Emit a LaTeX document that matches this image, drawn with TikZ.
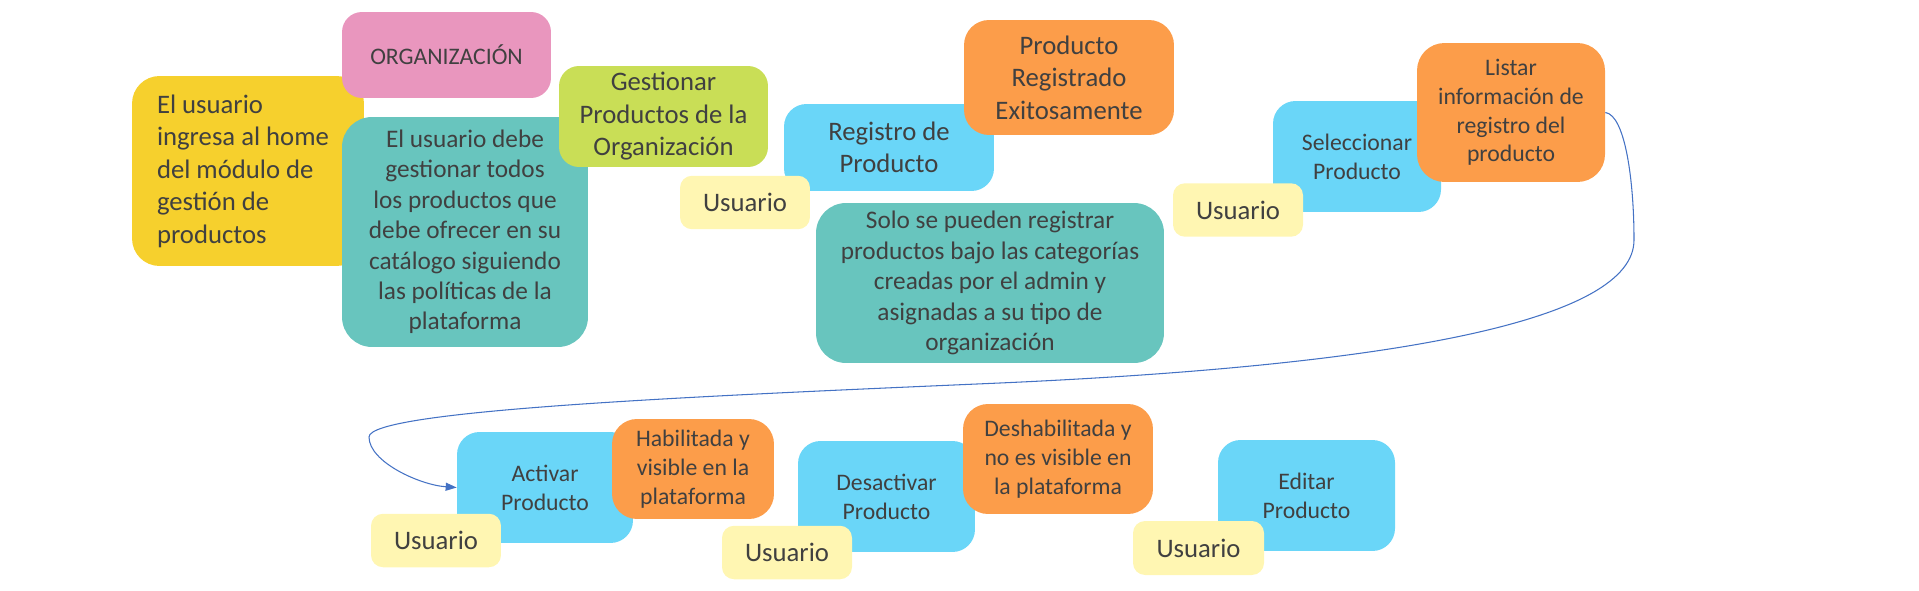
\documentclass[tikz,border=0pt]{standalone}
\usepackage{fontspec}
\setmainfont{Carlito}
\usetikzlibrary{arrows.meta}

\definecolor{cYellow}{RGB}{246,208,45}
\definecolor{cPink}{RGB}{233,150,190}
\definecolor{cTeal}{RGB}{104,197,190}
\definecolor{cGreen}{RGB}{201,222,86}
\definecolor{cBlue}{RGB}{106,214,248}
\definecolor{cOrange}{RGB}{252,157,74}
\definecolor{cCream}{RGB}{255,246,178}
\definecolor{cText}{RGB}{64,64,64}
\definecolor{cLine}{RGB}{68,114,196}

\newcommand{\txtbig}{\fontsize{15.2}{18.5}\selectfont}
\newcommand{\txtmid}{\fontsize{14.4}{17.3}\selectfont}
\newcommand{\txtsmall}{\fontsize{13.5}{16.4}\selectfont}

\tikzset{
  card/.style={inner sep=0pt, align=center, text=cText},
  yellowcard/.style={card, fill=cYellow, rounded corners=0.55cm, font=\txtbig},
  pinkcard/.style={card, fill=cPink, rounded corners=0.4cm, font=\txtsmall},
  tealcard/.style={card, fill=cTeal, rounded corners=0.6cm, font=\txtmid},
  greencard/.style={card, fill=cGreen, rounded corners=0.4cm, font=\txtbig},
  bluecard/.style={card, fill=cBlue, rounded corners=0.45cm, font=\txtsmall},
  orangecard/.style={card, fill=cOrange, rounded corners=0.5cm, font=\txtsmall},
  usercard/.style={card, fill=cCream, rounded corners=0.24cm, font=\txtbig,
    minimum width=2.6cm, minimum height=1.07cm},
  flowline/.style={draw=cLine, line width=0.6pt, -{Triangle[length=2.2mm,width=1.6mm]}}
}

\begin{document}
\begin{tikzpicture}[x=0.02cm,y=-0.02cm]
\useasboundingbox (0,0) rectangle (1919,591);

% first row, left part
\node[yellowcard, minimum width=4.64cm, minimum height=3.8cm, text width=3.64cm, align=flush left] (ingreso) at (248,171)
  {El usuario\\ ingresa al home\\ del módulo de\\ gestión de\\ productos};
\node[pinkcard, minimum width=4.18cm, minimum height=1.72cm] (org) at (446.5,55) {ORGANIZACIÓN};
\node[tealcard, minimum width=4.92cm, minimum height=4.6cm] (politicas) at (465,232)
  {El usuario debe\\ gestionar todos\\ los productos que\\ debe ofrecer en su\\ catálogo siguiendo\\ las políticas de la\\ plataforma};
\node[greencard, minimum width=4.18cm, minimum height=2.02cm] (gestionar) at (663.5,116.5)
  {Gestionar\\ Productos de la\\ Organización};

% first row, middle part
\node[bluecard, font=\txtbig, minimum width=4.2cm, minimum height=1.74cm] (registro) at (889,147.5)
  {Registro de\\ Producto};
\node[usercard] (user1) at (745,202.5) {Usuario};
\node[orangecard, font=\txtbig, minimum width=4.2cm, minimum height=2.3cm] (exito) at (1069,77.5)
  {Producto\\ Registrado\\ Exitosamente};
\node[tealcard, minimum width=6.96cm, minimum height=3.2cm] (categorias) at (990,283)
  {Solo se pueden registrar\\ productos bajo las categorías\\ creadas por el admin y\\ asignadas a su tipo de\\ organización};

% first row, right part
\node[bluecard, minimum width=3.36cm, minimum height=2.22cm] (seleccionar) at (1357,156.5)
  {Seleccionar\\ Producto};
\node[usercard] (user2) at (1238,210) {Usuario};
\node[orangecard, rounded corners=0.55cm, minimum width=3.76cm, minimum height=2.78cm] (listar) at (1511,112.5)
  {Listar\\ información de\\ registro del\\ producto};

% second row
\node[bluecard, minimum width=3.52cm, minimum height=2.22cm] (activar) at (545,487.5)
  {Activar\\ Producto};
\node[orangecard, minimum width=3.24cm, minimum height=2cm] (habilitada) at (693,469)
  {Habilitada y\\ visible en la\\ plataforma};
\node[usercard] (user3) at (436,540.5) {Usuario};

\node[bluecard, minimum width=3.54cm, minimum height=2.22cm] (desactivar) at (886.5,496.5)
  {Desactivar\\ Producto};
\node[usercard] (user4) at (787,552.5) {Usuario};
\node[orangecard, minimum width=3.8cm, minimum height=2.2cm] (deshabilitada) at (1058,459)
  {Deshabilitada y\\ no es visible en\\ la plataforma};

\node[bluecard, minimum width=3.54cm, minimum height=2.22cm] (editar) at (1306.5,495.5)
  {Editar\\ Producto};
\node[usercard, minimum width=2.62cm, minimum height=1.08cm] (user5) at (1198.5,548) {Usuario};

% link from the list back to the second row
\coordinate (turnR) at (1634,240);
\coordinate (turnB) at (1000,383);
\coordinate (turnL) at (369,437);
\draw[flowline] (listar.east) .. controls (1625,115) and (1634,180) .. (turnR)
  .. controls (1634,320) and (1400,365) .. (turnB)
  .. controls (700,396) and (369,410) .. (turnL)
  .. controls (369,462) and (420,485) .. (activar.west);

\end{tikzpicture}
\end{document}
